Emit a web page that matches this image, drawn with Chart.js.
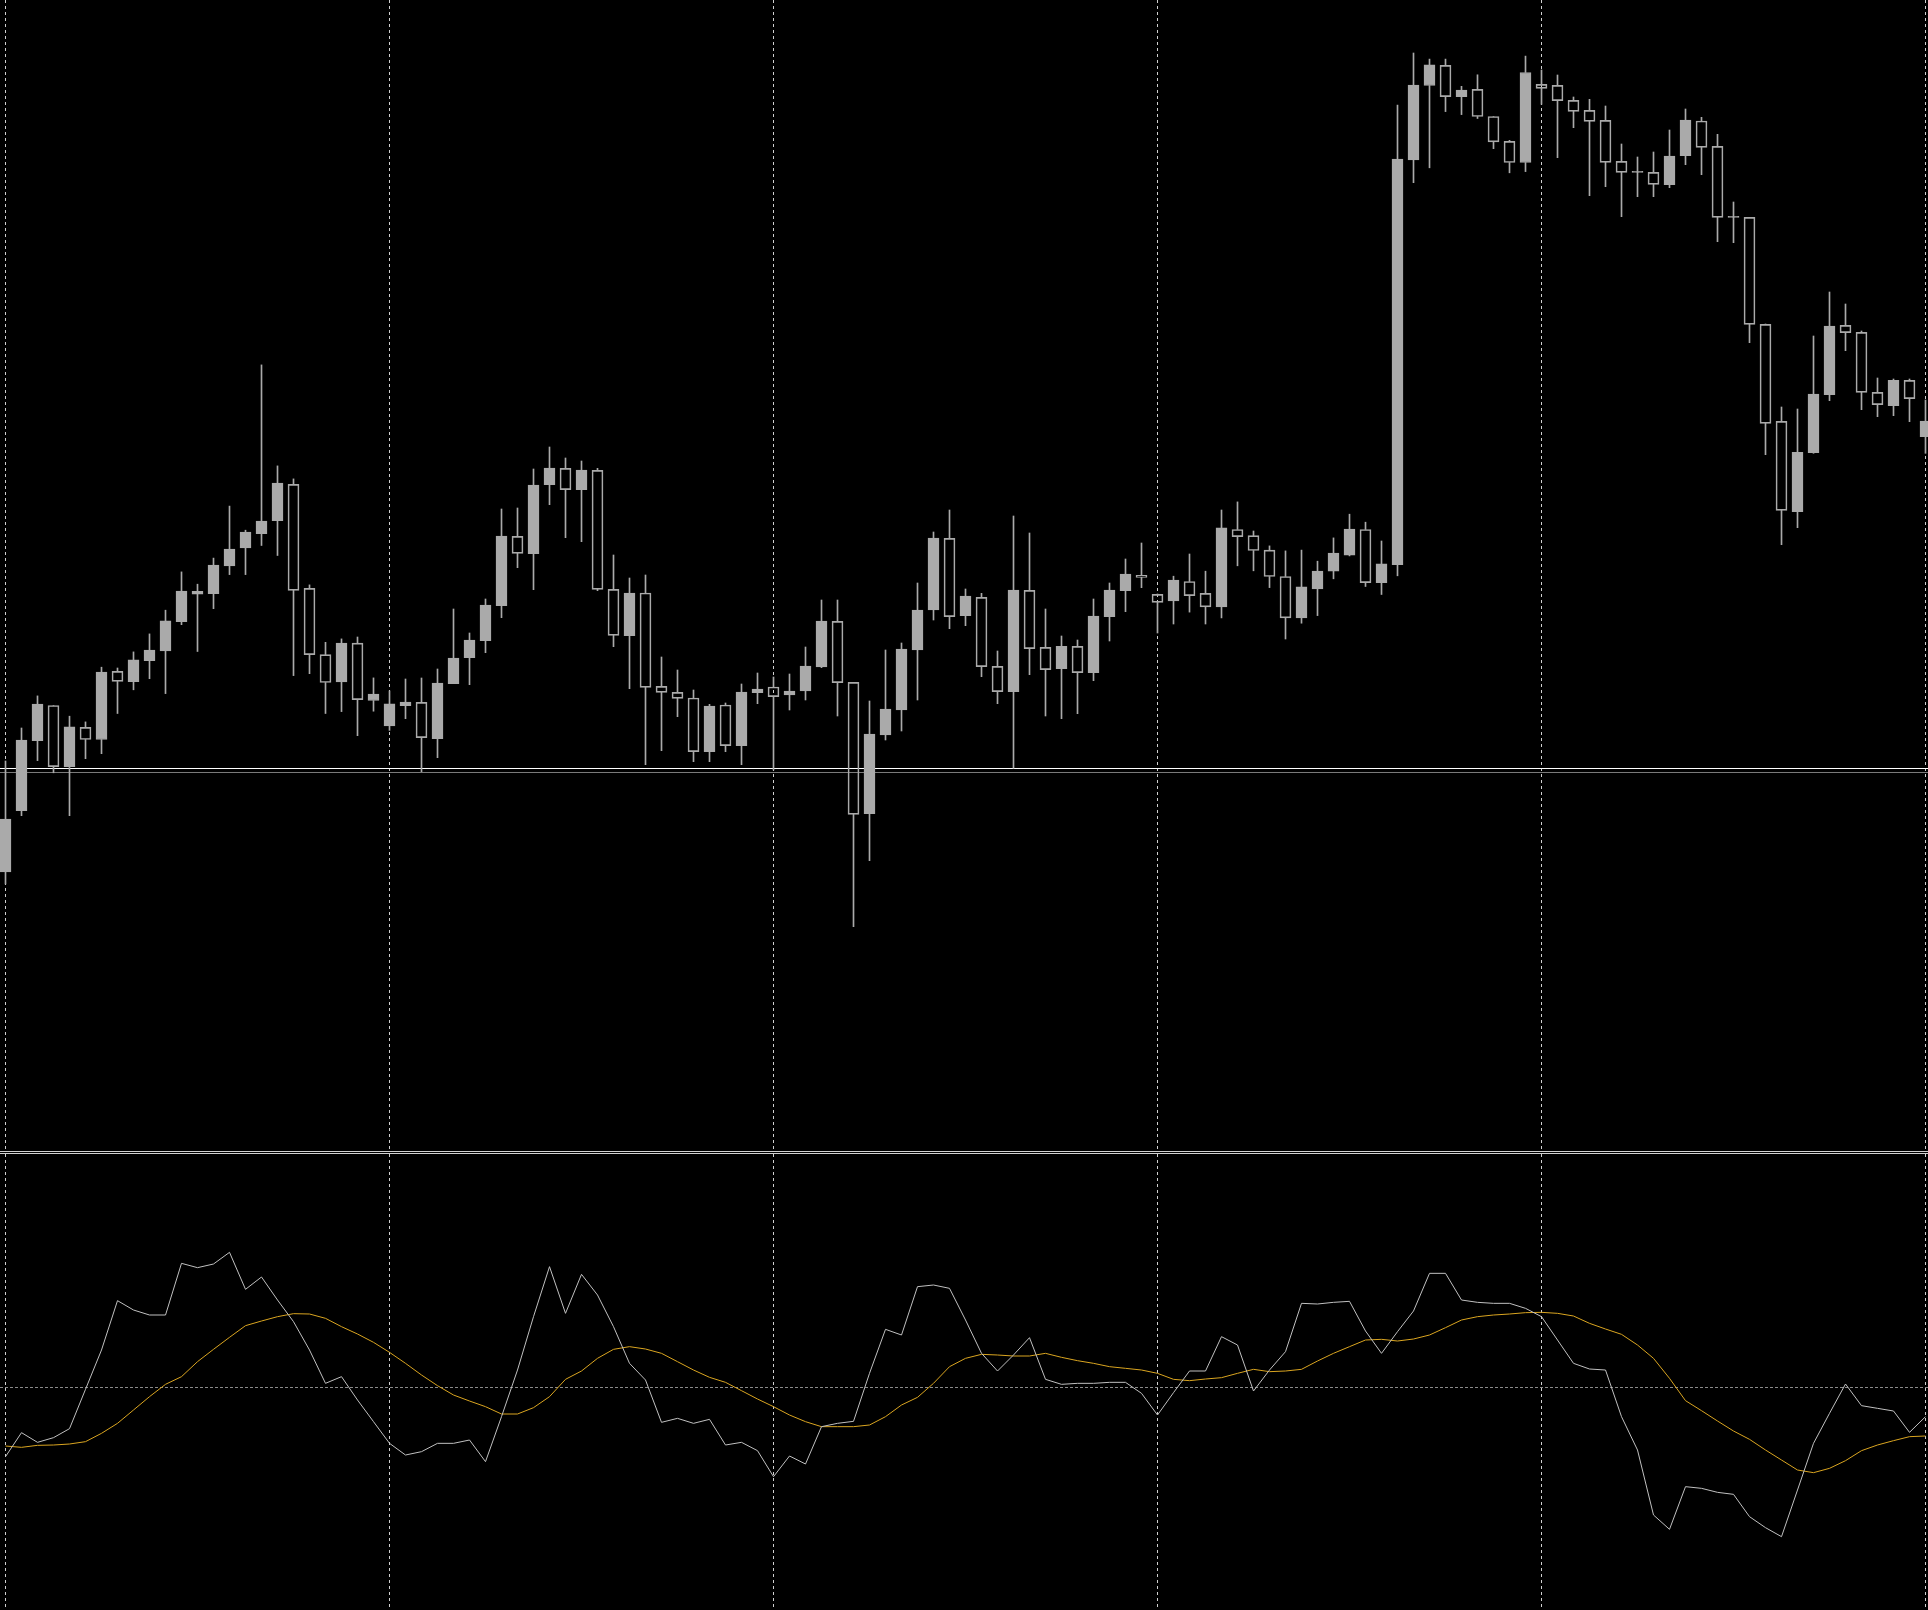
<!DOCTYPE html>
<html>
<head>
<meta charset="utf-8">
<title>Price with oscillator</title>
<script src="https://cdn.jsdelivr.net/npm/chart.js@4.4.1/dist/chart.umd.min.js"></script>
<style>
  html, body { margin: 0; padding: 0; background: #000; overflow: hidden; }
  #wrap { position: relative; width: 1928px; height: 1610px; background: #000; }
  #priceChart { position: absolute; left: 0; top: 0; }
  #sep { position: absolute; left: 0; top: 1151px; width: 1928px; height: 1px;
         border-top: 1px solid #d0d0d0; border-bottom: 1px solid #d0d0d0; }
  #oscChart { position: absolute; left: 0; top: 1154px; }
</style>
</head>
<body>
<div id="wrap">
  <canvas id="priceChart" width="1928" height="1151"></canvas>
  <div id="sep"></div>
  <canvas id="oscChart" width="1928" height="456"></canvas>
</div>
<script>
// ---------------------------------------------------------------------------
// Data (one entry per candle, oldest first)
// ---------------------------------------------------------------------------
const opens = [
  328, 389.3, 459.3, 494.5, 433.3, 472.7, 460.5, 528.6, 518.3, 539.3,
  549.2, 578.3, 608.6, 606.3, 634.2, 652.2, 666.4, 679.4, 715.7, 611.6,
  545.4, 518.2, 556.9, 499.5, 474.2, 494.3, 497.7, 461.3, 516.3, 542.3,
  559.3, 594.3, 663.7, 646.3, 715.3, 731.7, 710.3, 729.7, 610.7, 564.3,
  607, 513.7, 507.7, 502, 448.3, 495, 454.3, 507.3, 513, 505,
  509, 533, 578.7, 517.7, 386.3, 465, 490, 550, 590, 661.7,
  584.3, 602.7, 533.7, 508.3, 609.7, 552.7, 531.3, 553.7, 527.3, 583.3,
  609.3, 624.7, 605.7, 599, 618.5, 606.6, 593.2, 670.5, 664.4, 649.9,
  623.5, 582.1, 611.2, 628.8, 644.9, 670.5, 617.3, 635.3, 1040.2, 1114.5,
  1134.7, 1103.4, 1110.6, 1083.5, 1058.6, 1037.5, 1115.7, 1114.7, 1099.7, 1089.7,
  1079.7, 1038.7, 1027.7, 1027.7, 1015.3, 1044.3, 1079, 1053.7, 982.7, 982.7,
  875.7, 778.7, 688.3, 747.3, 805.3, 874.7, 867.7, 807.7, 794.3, 819.7,
  763.3
];
const highs = [
  439, 472, 504.1, 494.5, 483.8, 478.1, 532.8, 532, 548.1, 566.1,
  589.8, 628.1, 615.8, 641.9, 693.9, 669.8, 835.1, 734.1, 721.1, 615.1,
  557.7, 561.1, 563, 522.1, 509.1, 521, 522, 531, 591, 567,
  601, 691, 692, 731, 753, 742, 739, 731.7, 645, 622,
  625, 543, 530, 510, 495.7, 497, 516, 527, 523, 526,
  553, 600, 600, 517.7, 499, 550, 557, 617, 668, 690,
  611, 606.7, 549, 684, 667, 591, 564, 560, 601, 617,
  641, 657, 606, 623.8, 646, 628.8, 690, 698.1, 669, 654.1,
  649.1, 649.9, 638.8, 662.1, 685.8, 677.8, 659, 1094.9, 1147, 1140.9,
  1140.9, 1113.7, 1125.2, 1083.5, 1059.7, 1143.9, 1130, 1125, 1103, 1100.7,
  1094, 1056, 1043, 1048, 1070, 1091, 1082.7, 1065.7, 998, 982.7,
  876, 793, 791, 864, 908, 896, 869, 822, 821, 821,
  800
];
const lows = [
  316, 384.3, 439.4, 427.2, 384.3, 441.3, 446.3, 486.5, 510.2, 521.3,
  506.4, 575.3, 548.5, 591.3, 625.4, 625.4, 654.5, 644.5, 524.4, 526.3,
  486.5, 488.4, 464.3, 488.8, 469.6, 481.3, 428.3, 442.3, 516.3, 515.3,
  547.3, 582.3, 632.3, 610.3, 695.3, 662.3, 658.3, 609.3, 553.3, 511.3,
  435.3, 449.3, 483.3, 438.3, 438.3, 448.3, 435.3, 496.3, 430, 490,
  500, 532.3, 484, 273.3, 339.3, 460, 469, 500, 580, 571.3,
  574.3, 523.3, 496.3, 431.7, 525.3, 484, 481.3, 486.3, 519.3, 559,
  588.3, 612.3, 567, 576, 587.9, 576, 582.1, 634.2, 629.2, 612.4,
  561, 576.8, 584.4, 621.2, 644.1, 613.5, 605.5, 624.2, 1017.3, 1032.2,
  1088.4, 1085.4, 1081.5, 1051.3, 1027.2, 1028.4, 1095.7, 1042.3, 1072.3, 1004.3,
  1013.3, 983.3, 1003.3, 1003.3, 1012.3, 1035.3, 1025.3, 958.3, 957.3, 857.3,
  745.3, 655.3, 672.3, 746.7, 799.3, 849.3, 790.3, 783.3, 784.3, 778.3,
  746.7
];
const closes = [
  381, 460, 496, 433.3, 473.1, 460.5, 527.8, 518.6, 540.1, 550,
  579.1, 609, 605.9, 635, 651, 667.9, 679, 716.9, 609.7, 545.4,
  517.5, 556.9, 500.3, 506, 496.1, 498, 462.3, 517, 542, 560,
  595, 664, 646.7, 715, 732, 710.3, 730, 610.7, 564.7, 607,
  512.7, 507.7, 501.7, 448.3, 494, 454.3, 508, 511, 503.3, 509,
  534, 579, 517.3, 385.7, 466, 491, 551, 590, 662, 583.3,
  604, 533.3, 508.3, 610, 551.3, 530.3, 553.7, 527.3, 584, 610,
  626, 622.7, 597.7, 620, 604.3, 593.2, 672.1, 663.3, 649.5, 623.5,
  582.1, 613.1, 628.8, 646.8, 670.9, 617.3, 636.1, 1041, 1114.8, 1135.1,
  1103.4, 1109.9, 1083.5, 1058.2, 1037.5, 1127.5, 1111.7, 1099.3, 1088.7, 1078.7,
  1037.7, 1027.7, 1027.7, 1015.7, 1044, 1080, 1052.7, 982.7, 982.7, 875.7,
  776.7, 689.7, 747.7, 806, 874, 867.3, 807.7, 795.3, 819.7, 801.3,
  779
];

// Oscillator: fast line and its smoothed signal line
const oscMain = [
  -20.8, -13.6, -16.5, -15.1, -12.4, -0.6, 11.2, 26.0, 23.2, 21.7,
  21.7, 37.2, 35.9, 37.0, 40.5, 29.4, 33.1, 26.2, 19.7, 11.2,
  1.2, 3.2, -3.8, -10.3, -16.8, -20.3, -19.3, -16.8, -16.8, -15.8,
  -22.3, -8.8, 5.2, 21.2, 36.2, 22.2, 33.9, 27.7, 18.2, 7.2,
  2.2, -10.5, -9.3, -10.8, -9.6, -17.3, -16.5, -19.0, -26.8, -20.6,
  -23.0, -11.8, -10.8, -10.2, 4.2, 17.4, 15.7, 30.2, 30.7, 29.7,
  20.2, 10.2, 4.9, 9.7, 14.9, 2.4, 0.9, 1.2, 1.2, 1.5,
  1.5, -1.8, -8.3, -1.6, 4.9, 4.9, 15.2, 12.7, -1.1, 5.2,
  10.7, 25.2, 25.0, 25.5, 25.8, 16.9, 10.2, 16.7, 22.9, 34.2,
  34.2, 26.2, 25.5, 25.2, 25.2, 23.7, 21.2, 14.2, 7.2, 5.5,
  5.2, -8.8, -18.8, -38.3, -42.6, -29.8, -30.3, -31.5, -32.1, -38.8,
  -42.1, -44.8, -30.8, -16.8, -7.8, 1.0, -5.5, -6.3, -7.1, -13.5,
  -8.8
];
const oscSignal = [
  -17.6, -18.0, -17.4, -17.3, -17.0, -16.3, -13.8, -10.8, -6.8, -2.8,
  0.9, 3.2, 7.7, 11.4, 15.0, 18.5, 19.9, 21.2, 22.1, 22.0,
  20.7, 18.2, 16.0, 13.5, 10.5, 7.2, 3.7, 0.5, -2.3, -4.1,
  -5.8, -8.0, -8.0, -6.1, -2.8, 2.4, 4.9, 8.7, 11.4, 12.2,
  11.5, 10.2, 7.7, 5.2, 3.0, 1.5, -1.0, -3.5, -5.8, -8.3,
  -10.3, -11.8, -11.8, -11.8, -11.3, -8.8, -5.3, -3.0, 1.2, 6.2,
  8.7, 9.9, 9.7, 9.4, 9.4, 10.2, 9.0, 8.0, 7.2, 6.2,
  5.7, 5.2, 4.2, 2.4, 2.0, 2.5, 2.9, 4.2, 5.4, 4.7,
  4.9, 5.4, 7.9, 10.2, 12.2, 14.2, 14.4, 13.9, 14.5, 15.7,
  17.9, 20.2, 21.2, 21.7, 22.0, 22.4, 22.5, 22.2, 21.4, 19.2,
  17.5, 15.9, 12.7, 8.7, 2.7, -4.0, -7.0, -10.1, -13.1, -15.6,
  -18.8, -21.8, -24.8, -25.6, -24.3, -22.0, -19.0, -17.3, -16.0, -14.8,
  -14.6
];

// Candles that carry a vertical grid line
const gridCandles = [0, 24, 48, 72, 96, 120];
// Horizontal price lines (bright line, dim line)
const priceLevels = [431.5, 427.7];
// Oscillator reference level
const oscLevels = [0];

// ---------------------------------------------------------------------------
// Styling
// ---------------------------------------------------------------------------
const CANDLE_COLOR = "#aaaaaa";
const GRID_COLOR = "#d0d0d0";
const LEVEL_COLORS = ["#ffffff", "#7a7a7a"];
const OSC_MAIN_COLOR = "#c0c0c0";
const OSC_SIGNAL_COLOR = "#daa520";

const candleIdx = opens.map((_, i) => i);
// 16px per candle, first candle centred on pixel 5.5
const X_MIN = -5.5 / 16;
const X_MAX = X_MIN + 1928 / 16;

/**
 * Plugin: dashed vertical grid lines at fixed candles
 */
const verticalGrid = {
  id: "verticalGrid",
  beforeDatasetsDraw(chart) {
    const { ctx, chartArea, scales } = chart;
    ctx.save();
    ctx.strokeStyle = GRID_COLOR;
    ctx.lineWidth = 1;
    ctx.setLineDash([3, 3]);
    gridCandles.forEach(i => {
      const x = Math.floor(scales.x.getPixelForValue(i)) + 0.5;
      ctx.beginPath();
      ctx.moveTo(x, chartArea.top);
      ctx.lineTo(x, chartArea.bottom);
      ctx.stroke();
    });
    ctx.restore();
  },
};

/**
 * Plugin: horizontal level lines (solid for price, dotted for oscillator)
 */
const levelLines = {
  id: "levelLines",
  beforeDatasetsDraw(chart, args, opts) {
    const { ctx, chartArea, scales } = chart;
    ctx.save();
    ctx.lineWidth = 1;
    opts.levels.forEach((v, k) => {
      const y = Math.floor(scales.y.getPixelForValue(v)) + 0.5;
      ctx.strokeStyle = opts.colors[k];
      ctx.setLineDash(opts.dash);
      ctx.beginPath();
      ctx.moveTo(chartArea.left, y);
      ctx.lineTo(chartArea.right, y);
      ctx.stroke();
    });
    ctx.restore();
  },
};

function baseOptions(yMin, yMax) {
  return {
    responsive: false,
    animation: false,
    devicePixelRatio: 1,
    layout: { padding: 0 },
    events: [],
    plugins: { legend: { display: false }, tooltip: { enabled: false } },
    scales: {
      x: { type: "linear", min: X_MIN, max: X_MAX, offset: false, bounds: "ticks", display: false },
      y: { type: "linear", min: yMin, max: yMax, display: false },
    },
  };
}

// ---------------------------------------------------------------------------
// Price pane: candles built from floating bars (upper wick, lower wick, body)
// ---------------------------------------------------------------------------
const priceOptions = baseOptions(49, 1200);
priceOptions.plugins.levelLines = { levels: priceLevels, colors: LEVEL_COLORS, dash: [] };

const wickStyle = { backgroundColor: CANDLE_COLOR, borderWidth: 0, barThickness: 1, grouped: false, order: 2 };

new Chart(document.getElementById("priceChart"), {
  type: "bar",
  data: {
    datasets: [
      {
        label: "Upper wick",
        data: candleIdx.map(i => ({ x: i, y: [Math.max(opens[i], closes[i]), highs[i]] })),
        ...wickStyle,
      },
      {
        label: "Lower wick",
        data: candleIdx.map(i => ({ x: i, y: [lows[i], Math.min(opens[i], closes[i])] })),
        ...wickStyle,
      },
      {
        label: "Body",
        data: candleIdx.map(i => ({ x: i, y: [opens[i], closes[i]] })),
        backgroundColor: candleIdx.map(i => (closes[i] >= opens[i] ? CANDLE_COLOR : "rgba(0,0,0,0)")),
        borderColor: CANDLE_COLOR,
        borderWidth: 1,
        borderSkipped: false,
        barThickness: 11,
        minBarLength: 1,
        grouped: false,
        order: 1,
      },
    ],
  },
  options: priceOptions,
  plugins: [verticalGrid, levelLines],
});

// ---------------------------------------------------------------------------
// Oscillator pane
// ---------------------------------------------------------------------------
const oscOptions = baseOptions(-66.8, 70);
oscOptions.plugins.levelLines = { levels: oscLevels, colors: ["#8a8a8a"], dash: [3, 2] };

new Chart(document.getElementById("oscChart"), {
  type: "line",
  data: {
    datasets: [
      {
        label: "Signal",
        data: candleIdx.map(i => ({ x: i, y: oscSignal[i] })),
        borderColor: OSC_SIGNAL_COLOR,
        borderWidth: 1,
        pointRadius: 0,
        tension: 0,
        order: 2,
      },
      {
        label: "Main",
        data: candleIdx.map(i => ({ x: i, y: oscMain[i] })),
        borderColor: OSC_MAIN_COLOR,
        borderWidth: 1,
        pointRadius: 0,
        tension: 0,
        order: 1,
      },
    ],
  },
  options: oscOptions,
  plugins: [verticalGrid, levelLines],
});
</script>
</body>
</html>
